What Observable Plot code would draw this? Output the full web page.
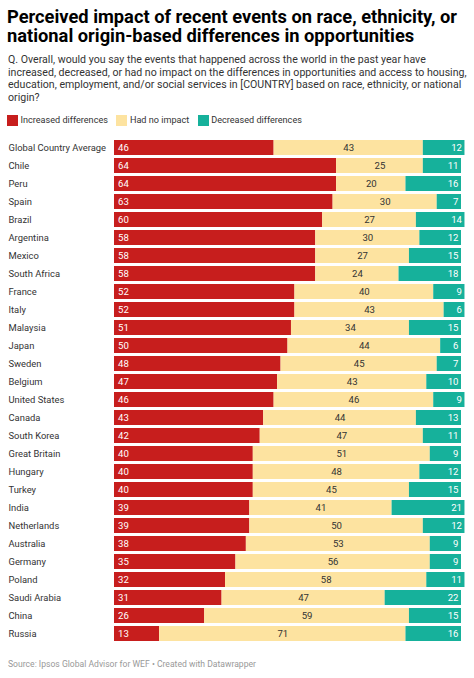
<!DOCTYPE html>
<html>
<head>
<meta charset="utf-8">
<script src="https://cdn.jsdelivr.net/npm/d3@7"></script>
<script src="https://cdn.jsdelivr.net/npm/@observablehq/plot@0.6"></script>
<style>
  html, body { margin: 0; padding: 0; background: #fff; }
  body { width: 474px; height: 678px; position: relative; overflow: hidden; font-family: Roboto, sans-serif; }
  #title { position: absolute; left: 7px; top: 6.5px; font-size: 18.3px; line-height: 19.5px; font-weight: 700; color: #000; white-space: nowrap; }
  #subtitle { position: absolute; left: 8px; top: 54px; font-size: 10.6px; line-height: 12.5px; color: #333; white-space: nowrap; }
  #legend { position: absolute; left: 7px; top: 114.5px; font-size: 9.1px; color: #333; display: flex; align-items: center; white-space: nowrap; }
  #legend .sw { display: inline-block; width: 11px; height: 11px; margin-right: 2.5px; }
  #legend .item { display: flex; align-items: center; margin-right: 8.5px; }
  #chart { position: absolute; left: 0; top: 128px; }
  #footer { position: absolute; left: 8px; top: 659px; font-size: 8.6px; color: #999; white-space: nowrap; }
</style>
</head>
<body>
<div id="title">Perceived impact of recent events on race, ethnicity, or<br>national origin-based differences in opportunities</div>
<div id="subtitle">Q. Overall, would you say the events that happened across the world in the past year have<br>increased, decreased, or had no impact on the differences in opportunities and access to housing,<br>education, employment, and/or social services in [COUNTRY] based on race, ethnicity, or national<br>origin?</div>
<div id="legend"></div>
<div id="chart"></div>
<div id="footer">Source: Ipsos Global Advisor for WEF • Created with Datawrapper</div>
<script>
const countries = ["Global Country Average","Chile","Peru","Spain","Brazil","Argentina","Mexico","South Africa","France","Italy","Malaysia","Japan","Sweden","Belgium","United States","Canada","South Korea","Great Britain","Hungary","Turkey","India","Netherlands","Australia","Germany","Poland","Saudi Arabia","China","Russia"];
const increased = [46,64,64,63,60,58,58,58,52,52,51,50,48,47,46,43,42,40,40,40,39,39,38,35,32,31,26,13];
const noImpact  = [43,25,20,30,27,30,27,24,40,43,34,44,45,43,46,44,47,51,48,45,41,50,53,56,58,47,59,71];
const decreased = [12,11,16,7,14,12,15,18,9,6,15,6,7,10,9,13,11,9,12,15,21,12,9,9,11,22,15,16];
const categories = ["Increased differences","Had no impact","Decreased differences"];
const colors = ["#c71e1d","#fde3a0","#16b19b"];

const series = [increased, noImpact, decreased];
const long = [];
countries.forEach((c, i) => {
  categories.forEach((cat, j) => long.push({country: c, cat, value: series[j][i]}));
});
const rows = countries.map((c, i) => ({
  country: c,
  inc: increased[i], none: noImpact[i], dec: decreased[i],
  mid: increased[i] + noImpact[i] / 2,
  end: increased[i] + noImpact[i] + decreased[i]
}));

// legend
const legend = document.getElementById("legend");
categories.forEach((cat, j) => {
  const it = document.createElement("span");
  it.className = "item";
  it.innerHTML = `<span class="sw" style="background:${colors[j]}"></span>${cat}`;
  legend.appendChild(it);
});

const chart = Plot.plot({
  width: 474,
  height: 521,
  marginLeft: 114,
  marginRight: 13,
  marginTop: 4,
  marginBottom: 0,
  style: {fontFamily: "Roboto, sans-serif", fontSize: "9.5px", background: "#fff"},
  x: {domain: [0, 100], axis: null},
  y: {domain: countries, padding: 0.18, label: null},
  color: {domain: categories, range: colors},
  marks: [
    Plot.barX(long, {y: "country", x: "value", fill: "cat", order: categories}),
    Plot.axisY({tickSize: 0, tickPadding: 106, textAnchor: "start", fill: "#333", fontSize: 9.4, label: null}),
    Plot.text(rows, {y: "country", x: 0, text: "inc", textAnchor: "start", dx: 3.5, fill: "#fff", fontSize: 9.6}),
    Plot.text(rows, {y: "country", x: "mid", text: "none", fill: "#333", fontSize: 9.6}),
    Plot.text(rows, {y: "country", x: "end", text: "dec", textAnchor: "end", dx: -3, fill: "#fff", fontSize: 9.6})
  ]
});
document.getElementById("chart").appendChild(chart);
</script>
</body>
</html>
